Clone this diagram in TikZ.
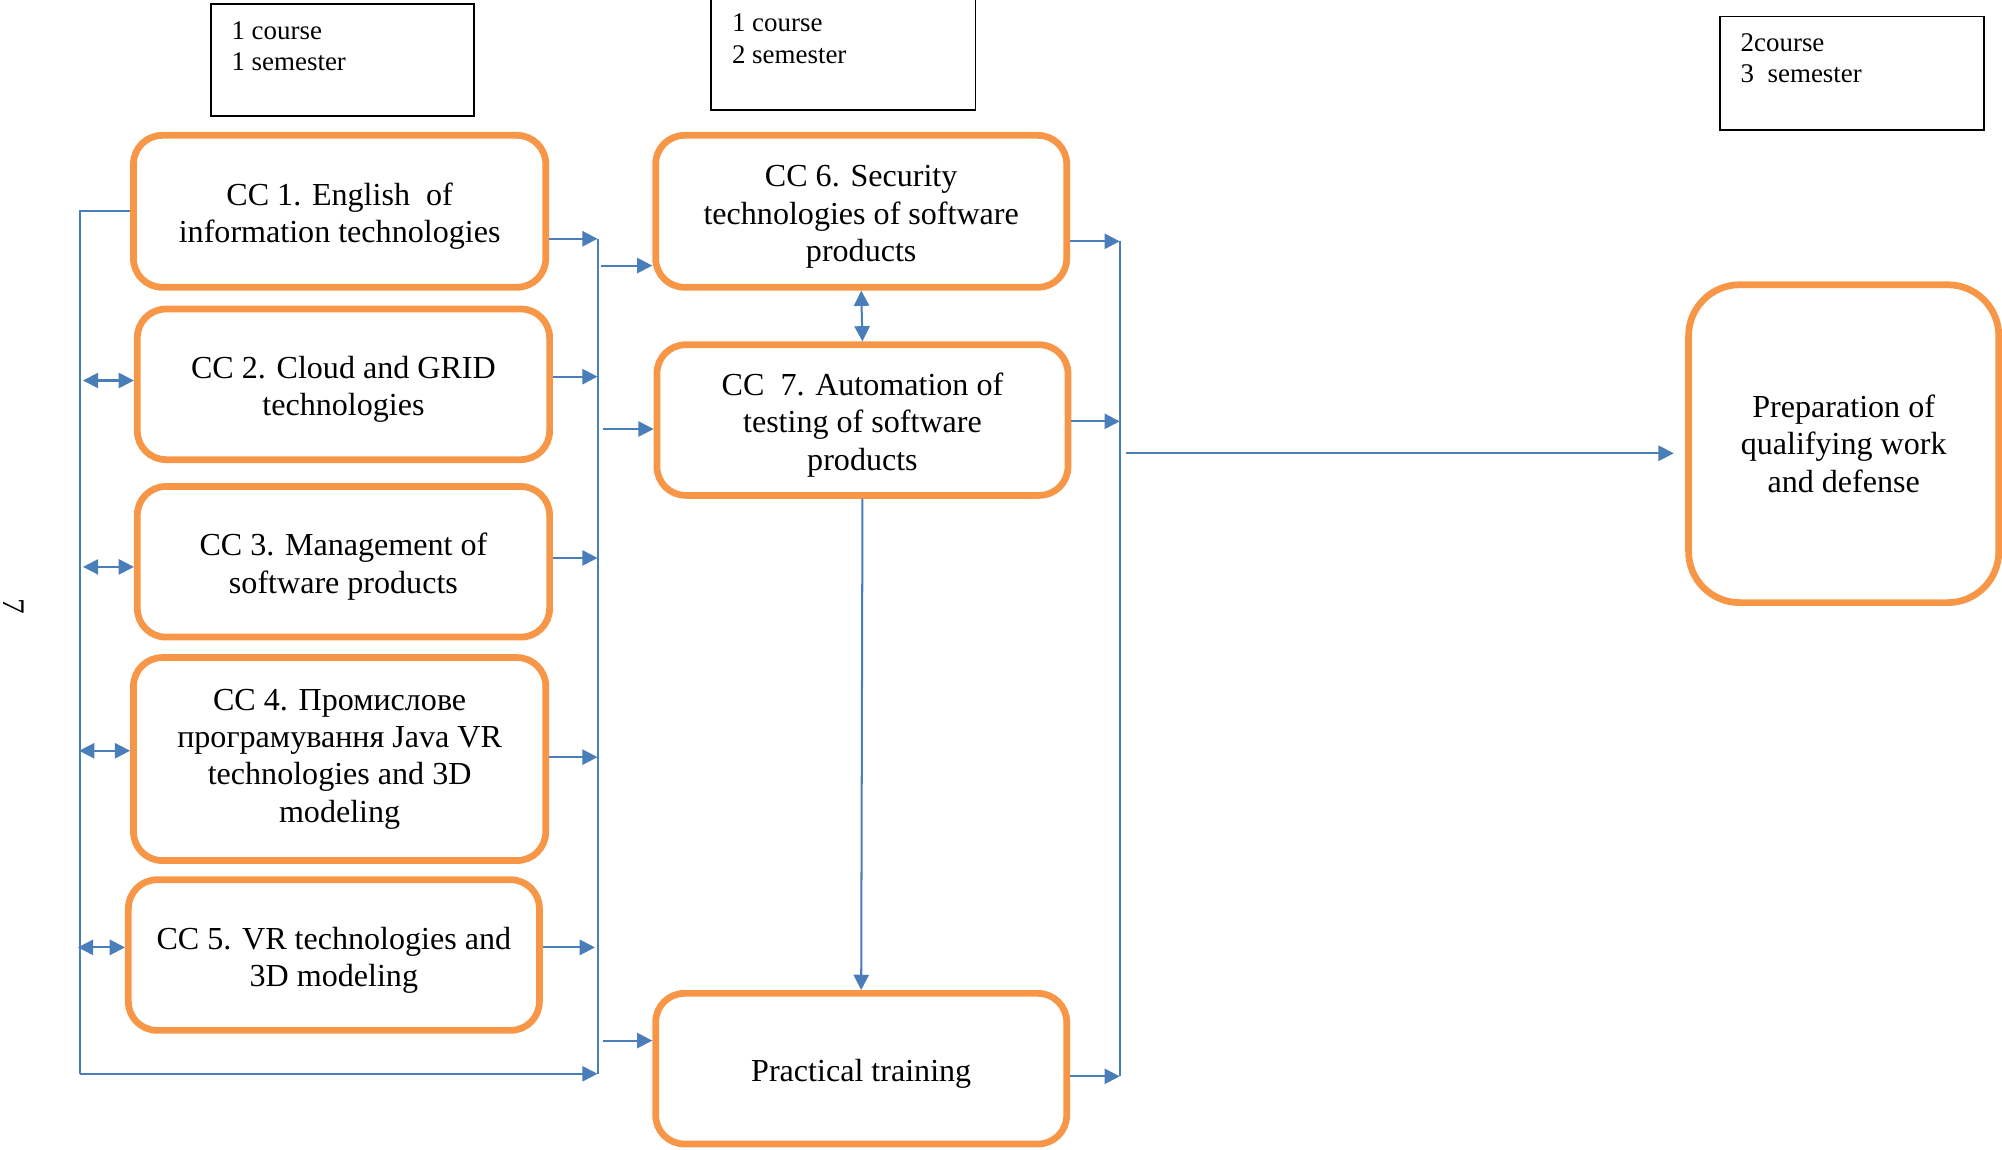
\documentclass[tikz,border=0pt]{standalone}
\usepackage{fontspec}
\setmainfont{Liberation Serif}
\usetikzlibrary{arrows.meta,calc}
\definecolor{orng}{HTML}{F79646}
\definecolor{bl}{HTML}{4A7EBB}
\newcommand\ccup{\rule{0pt}{14.4pt}}
\begin{document}
\begin{tikzpicture}[x=0.02cm,y=-0.02cm,
  ccbox/.style={draw=orng,line width=3pt,rounded corners=0.45cm,align=center,
    font=\fontsize{14.3}{16.6}\selectfont,inner sep=0pt},
  sembox/.style={draw=black,line width=0.75pt,inner sep=0pt},
  semtext/.style={font=\fontsize{12}{14}\selectfont,inner sep=0pt,anchor=base west},
  conn/.style={draw=bl,line width=0.9pt},
  arr/.style={conn,-{Triangle[length=6.8pt,width=6.8pt]}},
  darr/.style={conn,{Triangle[length=6.8pt,width=6.8pt]}-{Triangle[length=6.8pt,width=6.8pt]}},
]
\useasboundingbox (0,0) rectangle (1568,900);

% semester boxes
\node[sembox,minimum width=4.12cm,minimum height=1.76cm] (S1) at (268,47) {};
\node[semtext] (T1a) at (181,30.8) {1 course};
\node[semtext] (T1b) at (181,55.4) {1 semester};
\node[sembox,minimum width=4.14cm,minimum height=2.12cm] (S2) at (660.5,33) {};
\node[semtext] (T2a) at (573,25) {1 course};
\node[semtext] (T2b) at (573,49.6) {2 semester};
\node[sembox,minimum width=4.14cm,minimum height=1.78cm] (S3) at (1450.5,57.5) {};
\node[semtext] (T3a) at (1363,40.6) {2course};
\node[semtext] (T3b) at (1363,65) {3\ \ semester};

% side mark
\node[rotate=-90,font=\fontsize{14}{16}\selectfont,inner sep=0pt] (seven) at (11,475) {7};

% course boxes
\node[ccbox,minimum width=6.46cm,minimum height=2.38cm] (CC1) at (266,165.5) {\ccup CC 1. English\ \ of\\information technologies};
\node[ccbox,minimum width=6.46cm,minimum height=2.36cm] (CC2) at (269,301) {\ccup CC 2. Cloud and GRID\\technologies};
\node[ccbox,minimum width=6.46cm,minimum height=2.36cm] (CC3) at (269,440) {\ccup CC 3. Management of\\software products};
\node[ccbox,minimum width=6.46cm,minimum height=3.18cm] (CC4) at (266,594.5) {CC 4. Промислове\\програмування Java VR\\technologies and 3D\\modeling};
\node[ccbox,minimum width=6.44cm,minimum height=2.36cm] (CC5) at (261.5,748) {\ccup CC 5. VR technologies and\\3D modeling};
\node[ccbox,minimum width=6.44cm,minimum height=2.38cm] (CC6) at (674.5,165.5) {\ccup CC 6. Security\\technologies of software\\products};
\node[ccbox,minimum width=6.44cm,minimum height=2.36cm] (CC7) at (675.5,329) {\ccup CC\ \ 7. Automation of\\testing of software\\products};
\node[ccbox,minimum width=6.44cm,minimum height=2.36cm] (PT) at (674.5,837) {\ccup Practical training};
\node[ccbox,rounded corners=0.8cm,minimum width=4.86cm,minimum height=4.98cm] (Prep) at (1444,347.5) {Preparation of\\qualifying work\\and defense};

% bus coordinates
\coordinate (LT) at (63,165.5);
\coordinate (LB) at (63,841);
\coordinate (R1T) at (468,187);
\coordinate (R1B) at (468,841);
\coordinate (d2) at (65,298);
\coordinate (d3) at (65,444);
\coordinate (d4) at (62,588);
\coordinate (d5) at (61,742);
\coordinate (r2) at (468,295);
\coordinate (r3) at (468,437);
\coordinate (r4) at (468,593);
\coordinate (r5) at (466,742);
\coordinate (i6) at (471,208);
\coordinate (i7) at (472,336);
\coordinate (ip) at (472,815);
\coordinate (R2T) at (877,189);
\coordinate (R2B) at (877,843);
\coordinate (o7) at (877,330);
\coordinate (pp) at (882,355);

% left bus
\draw[conn] (CC1.west) -- (LT) -- (LB);
\draw[arr] (LB) -- (R1B);
\draw[darr] (d2) -- (CC2.west |- d2);
\draw[darr] (d3) -- (CC3.west |- d3);
\draw[darr] (d4) -- (CC4.west |- d4);
\draw[darr] (d5) -- (CC5.west |- d5);

% first column outputs
\draw[conn] (R1T) -- (R1B);
\draw[arr] (CC1.east |- R1T) -- (R1T);
\draw[arr] (CC2.east |- r2) -- (r2);
\draw[arr] (CC3.east |- r3) -- (r3);
\draw[arr] (CC4.east |- r4) -- (r4);
\draw[arr] (CC5.east |- r5) -- (r5);

% into second column
\draw[arr] (i6) -- (CC6.west |- i6);
\draw[arr] (i7) -- (CC7.west |- i7);
\draw[arr] (ip) -- (PT.west |- ip);
\draw[darr] (CC6.south) -- (CC7.north);
\draw[arr] (CC7.south) -- (PT.north);

% second column outputs
\draw[conn] (R2T) -- (R2B);
\draw[arr] (CC6.east |- R2T) -- (R2T);
\draw[arr] (CC7.east |- o7) -- (o7);
\draw[arr] (PT.east |- R2B) -- (R2B);
\draw[arr,shorten >=0.18cm] (pp) -- (Prep.west |- pp);
\end{tikzpicture}
\end{document}
